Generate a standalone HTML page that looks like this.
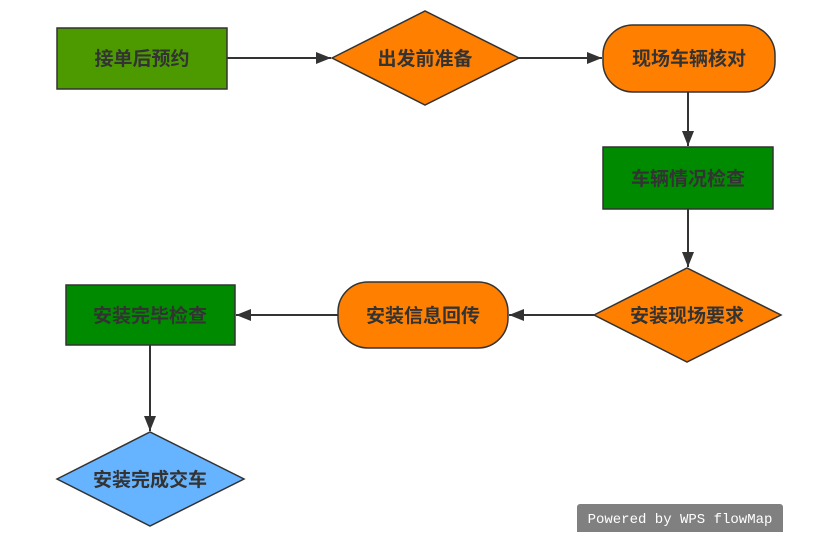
<!DOCTYPE html>
<html><head><meta charset="utf-8"><style>
body{margin:0;background:#fff;width:816px;height:532px;overflow:hidden;position:relative}
text{font-family:"Liberation Sans","Noto Sans CJK SC",sans-serif;font-weight:bold;font-size:19px;fill:#333}
.wm{position:absolute;left:577px;top:504px;width:206px;height:28px;background:#808080;color:#fff;font-family:"Liberation Mono",monospace;font-size:14px;line-height:32px;text-align:center;border-radius:3px 3px 0 0}
</style></head><body>
<svg width="816" height="532" style="position:absolute;left:0;top:0">
<defs><marker id="a" markerWidth="16" markerHeight="14" refX="15" refY="7" orient="auto" markerUnits="userSpaceOnUse"><path d="M0,1 L15,7 L0,13z" fill="#333"/></marker></defs>
<g stroke="#333" stroke-width="2" fill="none">
<line x1="227" y1="58" x2="331" y2="58" marker-end="url(#a)"/>
<line x1="519" y1="58" x2="602" y2="58" marker-end="url(#a)"/>
<line x1="688" y1="92" x2="688" y2="146" marker-end="url(#a)"/>
<line x1="688" y1="209" x2="688" y2="267" marker-end="url(#a)"/>
<line x1="594" y1="315" x2="509" y2="315" marker-end="url(#a)"/>
<line x1="338" y1="315" x2="236" y2="315" marker-end="url(#a)"/>
<line x1="150" y1="345" x2="150" y2="431" marker-end="url(#a)"/>
</g>
<g stroke="#333" stroke-width="1.5">
<rect x="57" y="28" width="170" height="61" fill="#4c9900"/>
<polygon points="332,58 425,11 519,58 425,105" fill="#ff8000"/>
<rect x="603" y="25" width="172" height="67" rx="30" fill="#ff8000"/>
<rect x="603" y="147" width="170" height="62" fill="#008a00"/>
<polygon points="594,315 687,268 781,315 687,362" fill="#ff8000"/>
<rect x="338" y="282" width="170" height="66" rx="30" fill="#ff8000"/>
<rect x="66" y="285" width="169" height="60" fill="#008a00"/>
<polygon points="57,479 150,432 244,479 150,526" fill="#66b3ff"/>
</g>
<g text-anchor="middle">
<text x="142" y="65">接单后预约</text>
<text x="425" y="65">出发前准备</text>
<text x="689" y="65">现场车辆核对</text>
<text x="688" y="185">车辆情况检查</text>
<text x="687" y="322">安装现场要求</text>
<text x="423" y="322">安装信息回传</text>
<text x="150" y="322">安装完毕检查</text>
<text x="150" y="486">安装完成交车</text>
</g>
</svg>
<div class="wm">Powered by WPS flowMap</div>
</body></html>
